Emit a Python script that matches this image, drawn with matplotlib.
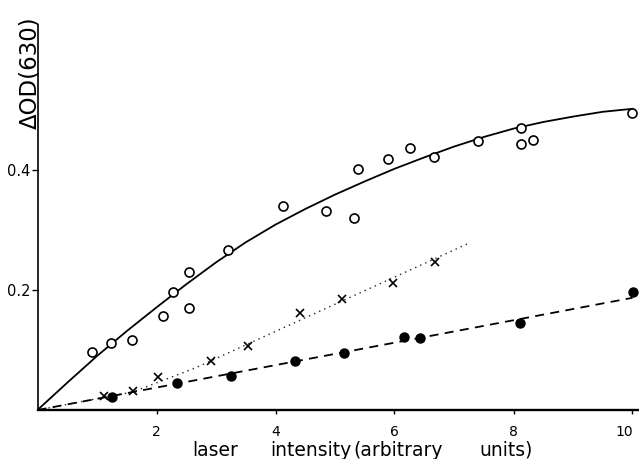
import matplotlib
matplotlib.use("Agg")
import matplotlib.pyplot as plt
import matplotlib.transforms as mtransforms

# open circles
open_x = [0.92, 1.23, 1.58, 2.11, 2.27, 2.54, 2.54, 3.21, 4.13, 4.85, 5.32,
          5.39, 5.89, 6.26, 6.66, 7.40, 8.13, 8.12, 8.32, 10.0]
open_y = [0.096, 0.111, 0.117, 0.156, 0.197, 0.230, 0.170, 0.266, 0.340, 0.332, 0.320,
          0.402, 0.418, 0.436, 0.421, 0.449, 0.470, 0.444, 0.450, 0.495]

# crosses
cross_x = [1.12, 1.60, 2.02, 2.92, 3.54, 4.42, 5.12, 5.97, 6.68]
cross_y = [0.023, 0.031, 0.055, 0.081, 0.107, 0.162, 0.185, 0.211, 0.247]

# filled circles
fill_x = [1.25, 2.34, 3.25, 4.32, 5.15, 6.16, 6.43, 8.11, 10.01]
fill_y = [0.022, 0.045, 0.056, 0.082, 0.095, 0.121, 0.120, 0.145, 0.196]

# hand drawn guide lines
curve_x = [0, 0.5, 1, 1.5, 2, 2.5, 3, 3.5, 4, 4.5, 5, 5.5, 6, 6.5, 7, 7.5, 8, 8.5, 9, 9.5, 10]
curve_y = [0, 0.0455, 0.090, 0.1315, 0.171, 0.2095, 0.246, 0.2795, 0.309, 0.335, 0.359,
           0.381, 0.402, 0.421, 0.439, 0.455, 0.469, 0.480, 0.489, 0.497, 0.502]
dot_x = [0, 1.6, 2.65, 7.25]
dot_y = [0, 0.030, 0.070, 0.278]
dash_x = [0, 10.0]
dash_y = [0, 0.187]

xticks = [2, 4, 6, 8, 10]
yticks = [0.2, 0.4]

W, H = 639, 459
fig = plt.figure(figsize=(W / 100, H / 100), dpi=100)
x0, y0 = 37.5, 410
ax = fig.add_axes([x0 / W, (H - y0) / H, 10.1 * 59.5 / W, 0.642 * 600 / H])

ax.plot(curve_x, curve_y, '-', color='k', lw=1.3)
ax.plot(dot_x, dot_y, color='#222222', lw=1.0, ls=(0, (1, 3)))
ax.plot(dash_x, dash_y, color='k', lw=1.3, ls=(0, (5, 3.5)))

ax.plot(open_x, open_y, 'o', ms=6.5, mfc='white', mec='k', mew=1.2, clip_on=False)
ax.plot(cross_x, cross_y, 'x', ms=5.5, color='k', mew=1.2, clip_on=False)
ax.plot(fill_x, fill_y, 'o', ms=6.5, color='k', clip_on=False)

ax.set_xlim(0, 10.1)
ax.set_ylim(0, 0.642)
for s in ['top', 'right']:
    ax.spines[s].set_visible(False)
ax.spines['left'].set_linewidth(1.2)
ax.spines['bottom'].set_linewidth(1.7)

ax.set_xticks(xticks)
ax.set_xticklabels([str(t) for t in xticks])
ax.set_yticks(yticks)
ax.set_yticklabels(['0.2', '0.4'])
ax.tick_params(axis='x', direction='out', length=3, width=1, pad=8, labelsize=10)
ax.tick_params(axis='y', direction='out', length=4, width=1, pad=1, labelsize=10.5)

# the "10" sits a little left of its tick
shift = mtransforms.ScaledTranslation(-8 / 100, 0, fig.dpi_scale_trans)
for lbl in ax.get_xticklabels():
    if lbl.get_text() == '10':
        lbl.set_transform(lbl.get_transform() + shift)

# axis titles
fig.text(30 / W, 1 - 72.5 / H, 'ΔOD(630)', rotation=90, ha='center', va='center',
         fontsize=16.5)
base = 1 - 456 / H
fig.text(215 / W, base, 'laser', ha='center', va='baseline', fontsize=13.5)
fig.text(351 / W, base, 'intensity', ha='right', va='baseline', fontsize=13.5)
fig.text(353 / W, base, '(arbitrary', ha='left', va='baseline', fontsize=13.5)
fig.text(506 / W, base, 'units)', ha='center', va='baseline', fontsize=13.5)

fig.savefig('out.png', dpi=100)
